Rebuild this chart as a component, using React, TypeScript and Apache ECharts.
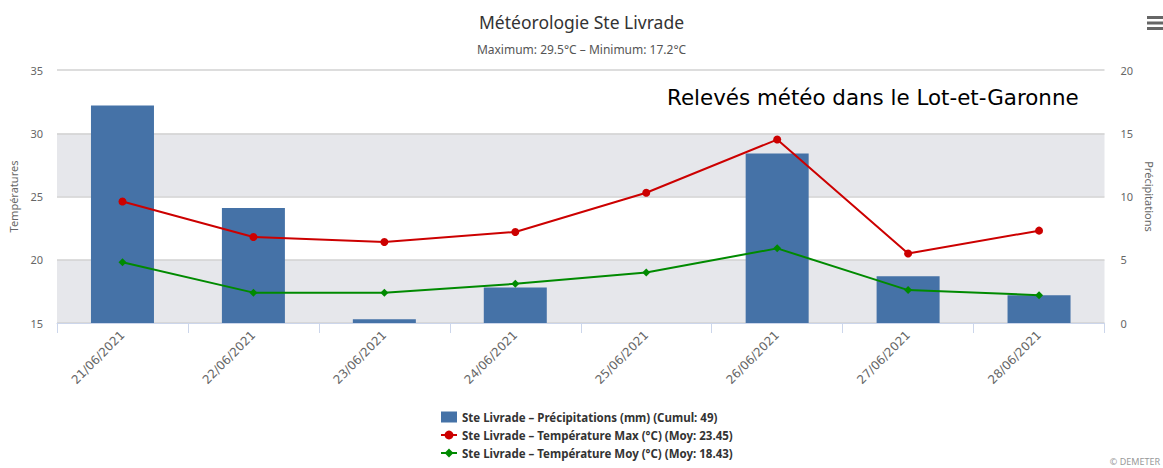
import React, { useEffect, useRef } from "react";
import * as echarts from "echarts";

const categories = [
  "21/06/2021", "22/06/2021", "23/06/2021", "24/06/2021",
  "25/06/2021", "26/06/2021", "27/06/2021", "28/06/2021",
];
const precipitation = [17.2, 9.1, 0.3, 2.8, 0, 13.4, 3.7, 2.2];
const tempMax = [24.6, 21.8, 21.4, 22.2, 25.3, 29.5, 20.5, 22.3];
const tempMoy = [19.8, 17.4, 17.4, 18.1, 19.0, 20.9, 17.6, 17.2];

const seriesNames = [
  "Ste Livrade – Précipitations (mm) (Cumul: 49)",
  "Ste Livrade – Température Max (°C) (Moy: 23.45)",
  "Ste Livrade – Température Moy (°C) (Moy: 18.43)",
];

const FONT = "Noto Sans";

export default function App() {
  const ref = useRef<HTMLDivElement>(null);
  useEffect(() => {
    if (!ref.current) return;
    const chart = echarts.init(ref.current, undefined, { renderer: "svg" });
    chart.setOption({
      animation: false,
      textStyle: { fontFamily: FONT },
      title: {
        text: "Météorologie Ste Livrade",
        subtext: "Maximum: 29.5°C – Minimum: 17.2°C",
        left: "center",
        top: 8,
        itemGap: 12,
        textStyle: { fontFamily: FONT, fontSize: 17.5, fontWeight: "normal", color: "#333" },
        subtextStyle: { fontFamily: FONT, fontSize: 12, color: "#555" },
      },
      grid: { left: 53, right: 45, top: 70, bottom: 145 },
      legend: {
        orient: "vertical",
        left: 435,
        top: 406,
        itemGap: 6,
        itemWidth: 16,
        itemHeight: 11,
        textStyle: { fontFamily: FONT, fontSize: 11.5, fontWeight: "bold", color: "#333" },
        data: [
          { name: seriesNames[0], icon: "rect" },
          { name: seriesNames[1] },
          { name: seriesNames[2] },
        ],
      },
      xAxis: {
        type: "category",
        data: categories,
        boundaryGap: true,
        axisLine: { show: true, lineStyle: { color: "#ccd6eb" } },
        axisTick: { show: true, length: 10, lineStyle: { color: "#ccd6eb" } },
        axisLabel: { rotate: 45, fontSize: 12, color: "#666", margin: 10, fontFamily: "DejaVu Sans" },
      },
      yAxis: [
        {
          type: "value",
          min: 15,
          max: 35,
          interval: 5,
          name: "Températures",
          nameLocation: "middle",
          nameGap: 38,
          nameRotate: 90,
          nameTextStyle: { color: "#666", fontSize: 11, fontFamily: FONT },
          axisLine: { show: false },
          axisTick: { show: false },
          axisLabel: { color: "#666", fontSize: 11, margin: 14, fontFamily: FONT },
          splitLine: { show: true, lineStyle: { color: "#d2d2d2", width: 1.5 } },
          splitArea: { show: true, areaStyle: { color: ["#e6e7eb", "#ffffff"] } },
        },
        {
          type: "value",
          min: 0,
          max: 20,
          interval: 5,
          position: "right",
          name: "Précipitations",
          nameLocation: "middle",
          nameGap: 36,
          nameRotate: -90,
          nameTextStyle: { color: "#666", fontSize: 11, fontFamily: FONT },
          axisLine: { show: false },
          axisTick: { show: false },
          axisLabel: { color: "#666", fontSize: 11, margin: 16, fontFamily: FONT },
          splitLine: { show: false },
          splitArea: { show: false },
        },
      ],
      series: [
        {
          name: seriesNames[0],
          type: "bar",
          yAxisIndex: 1,
          data: precipitation,
          barWidth: 63,
          itemStyle: { color: "#4572a7", borderWidth: 0 },
          z: 1,
        },
        {
          name: seriesNames[1],
          type: "line",
          yAxisIndex: 0,
          data: tempMax,
          symbol: "circle",
          symbolSize: 8,
          lineStyle: { color: "#cc0000", width: 2 },
          itemStyle: { color: "#cc0000" },
          z: 3,
        },
        {
          name: seriesNames[2],
          type: "line",
          yAxisIndex: 0,
          data: tempMoy,
          symbol: "diamond",
          symbolSize: 8,
          lineStyle: { color: "#008a00", width: 2 },
          itemStyle: { color: "#008a00" },
          z: 3,
        },
      ],
      graphic: [
        {
          type: "text",
          left: 667,
          top: 87,
          style: {
            text: "Relevés météo dans le Lot-et-Garonne",
            fontFamily: "DejaVu Sans",
            fontSize: 21.4,
            fill: "#000",
          },
          z: 10,
        },
        { type: "rect", shape: { x: 1147, y: 16, width: 16, height: 3 }, style: { fill: "#666" } },
        { type: "rect", shape: { x: 1147, y: 21.5, width: 16, height: 3 }, style: { fill: "#666" } },
        { type: "rect", shape: { x: 1147, y: 27, width: 16, height: 3 }, style: { fill: "#666" } },
        {
          type: "text",
          right: 3,
          top: 457,
          style: { text: "© DEMETER", fontFamily: FONT, fontSize: 9, fill: "#999" },
        },
      ],
    });
    return () => chart.dispose();
  }, []);
  return (
    <div
      ref={ref}
      style={{ position: "absolute", left: 0, top: 0, width: 1163, height: 468 }}
    />
  );
}
